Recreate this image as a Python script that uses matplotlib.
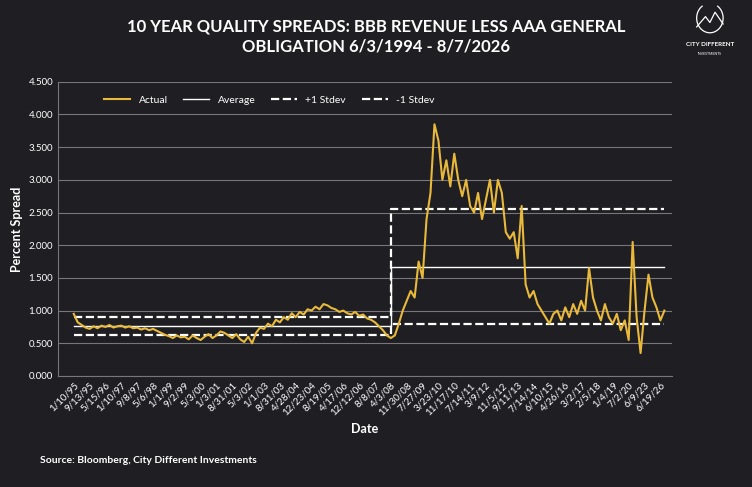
import matplotlib.pyplot as plt
import numpy as np

plt.rcParams['font.family'] = 'Lato'

labels = ['1/10/95', '9/13/95', '5/15/96', '1/10/97', '9/8/97', '5/6/98', '1/1/99', '9/2/99',
	'5/3/00', '1/3/01', '8/31/01', '5/3/02', '1/1/03', '8/31/03', '4/28/04', '12/23/04',
	'8/19/05', '4/17/06', '12/12/06', '8/8/07', '4/3/08', '11/30/08', '7/27/09', '3/23/10',
	'11/17/10', '7/14/11', '3/9/12', '11/5/12', '9/11/13', '7/14/14', '6/10/15', '4/26/16',
	'3/2/17', '2/5/18', '1/4/19', '7/2/20', '6/9/23', '6/19/26']

actual = [0.95, 0.82, 0.78, 0.74, 0.72, 0.76, 0.73, 0.77, 0.75, 0.78, 0.74, 0.76,
	0.77, 0.74, 0.76, 0.73, 0.74, 0.71, 0.73, 0.70, 0.72, 0.69, 0.66, 0.63,
	0.61, 0.58, 0.62, 0.59, 0.60, 0.56, 0.62, 0.58, 0.55, 0.60, 0.64, 0.58,
	0.62, 0.68, 0.66, 0.62, 0.58, 0.64, 0.56, 0.52, 0.60, 0.50, 0.66, 0.74,
	0.72, 0.80, 0.76, 0.86, 0.82, 0.90, 0.86, 0.96, 0.90, 0.98, 0.94, 1.02,
	1.00, 1.06, 1.02, 1.10, 1.08, 1.04, 1.02, 0.98, 1.00, 0.96, 0.94, 0.98,
	0.92, 0.94, 0.88, 0.86, 0.82, 0.76, 0.70, 0.62, 0.58, 0.62, 0.80, 1.00,
	1.15, 1.30, 1.20, 1.75, 1.50, 2.40, 2.80, 3.85, 3.60, 3.00, 3.30, 2.90,
	3.40, 3.00, 2.75, 3.00, 2.60, 2.50, 2.80, 2.40, 2.70, 3.00, 2.50, 3.00,
	2.80, 2.20, 2.10, 2.20, 1.80, 2.60, 1.40, 1.20, 1.30, 1.10, 1.00, 0.90,
	0.80, 0.95, 1.00, 0.85, 1.05, 0.90, 1.10, 0.95, 1.15, 1.00, 1.65, 1.20,
	1.00, 0.85, 1.10, 0.90, 0.80, 0.95, 0.70, 0.85, 0.55, 2.05, 0.90, 0.35,
	1.00, 1.55, 1.20, 1.05, 0.85, 1.00]

split = 80  # index of 4/3/08
regimes = [(0, split, 0.76, 0.90, 0.62), (split, len(actual) - 1, 1.67, 2.55, 0.79)]

bg = '#1f1e23'
gold = '#e8b93a'

fig = plt.figure(figsize=(7.52, 4.87), dpi=100, facecolor=bg)
ax = fig.add_axes([0.077, 0.228, 0.817, 0.604], facecolor=bg)

x = np.arange(len(actual))
ax.plot(x, actual, color=gold, lw=1.5, label='Actual', zorder=3)

avg_x, avg_y, up_y, lo_y = [], [], [], []
for a, b, m, u, l in regimes:
	avg_x += [a, b]
	avg_y += [m, m]
	up_y += [u, u]
	lo_y += [l, l]
ax.plot(avg_x, avg_y, color='white', lw=1, label='Average')
ax.plot(avg_x, up_y, color='white', lw=1.6, ls='--', label='+1 Stdev')
ax.plot(avg_x, lo_y, color='white', lw=1.6, ls='--', label='-1 Stdev')

ax.set_xlim(-4, len(actual) + 1)
ax.set_ylim(0, 4.5)
ax.set_yticks(np.arange(0, 4.51, 0.5))
ax.set_yticklabels(['{:.3f}'.format(v) for v in np.arange(0, 4.51, 0.5)])
ax.set_xticks(np.arange(0, len(actual), 4))
ax.set_xticklabels(labels, rotation=45, ha='right', rotation_mode='anchor')
ax.tick_params(colors='white', labelsize=7, length=0)
ax.grid(axis='y', color='#77767b', lw=0.8)
ax.set_axisbelow(True)
for s in ['top', 'right']:
	ax.spines[s].set_visible(False)
ax.spines['left'].set_color('#77767b')
ax.spines['bottom'].set_color('#77767b')

ax.set_xlabel('Date', color='white', fontsize=9, fontweight='bold')
ax.set_ylabel('Percent Spread', color='white', fontsize=9, fontweight='bold')
ax.legend(loc='upper left', bbox_to_anchor=(0.06, 0.985), ncol=4, frameon=False,
	labelcolor='white', fontsize=7.5, handlelength=2.5, columnspacing=1.5)

fig.text(0.5, 0.925, '10 YEAR QUALITY SPREADS: BBB REVENUE LESS AAA GENERAL\nOBLIGATION 6/3/1994 - 8/7/2026',
	color='white', fontsize=12, fontweight='bold', ha='center', va='center', linespacing=1.3)
fig.text(0.053, 0.05, 'Source: Bloomberg, City Different Investments', color='white',
	fontsize=7.5, fontweight='bold')

# logo
fig.text(0.944, 0.905, 'CITY DIFFERENT', color='white', fontsize=4.5, fontweight='bold', ha='center')
fig.text(0.944, 0.888, 'INVESTMENTS', color='white', fontsize=2.5, ha='center')
lax = fig.add_axes([0.92, 0.93, 0.048, 0.06])
lax.axis('off')
t = np.linspace(0.2 * np.pi, 1.8 * np.pi, 100)
lax.plot(np.cos(t + np.pi / 2) * 0.9, np.sin(t + np.pi / 2), color='white', lw=0.9)
lax.plot([-0.9, -0.3, 0.0, 0.35, 0.9], [-0.6, 0.1, -0.3, 0.4, -0.4], color='white', lw=0.9)
lax.set_aspect('equal')

fig.savefig('out.png', dpi=100, facecolor=bg)
